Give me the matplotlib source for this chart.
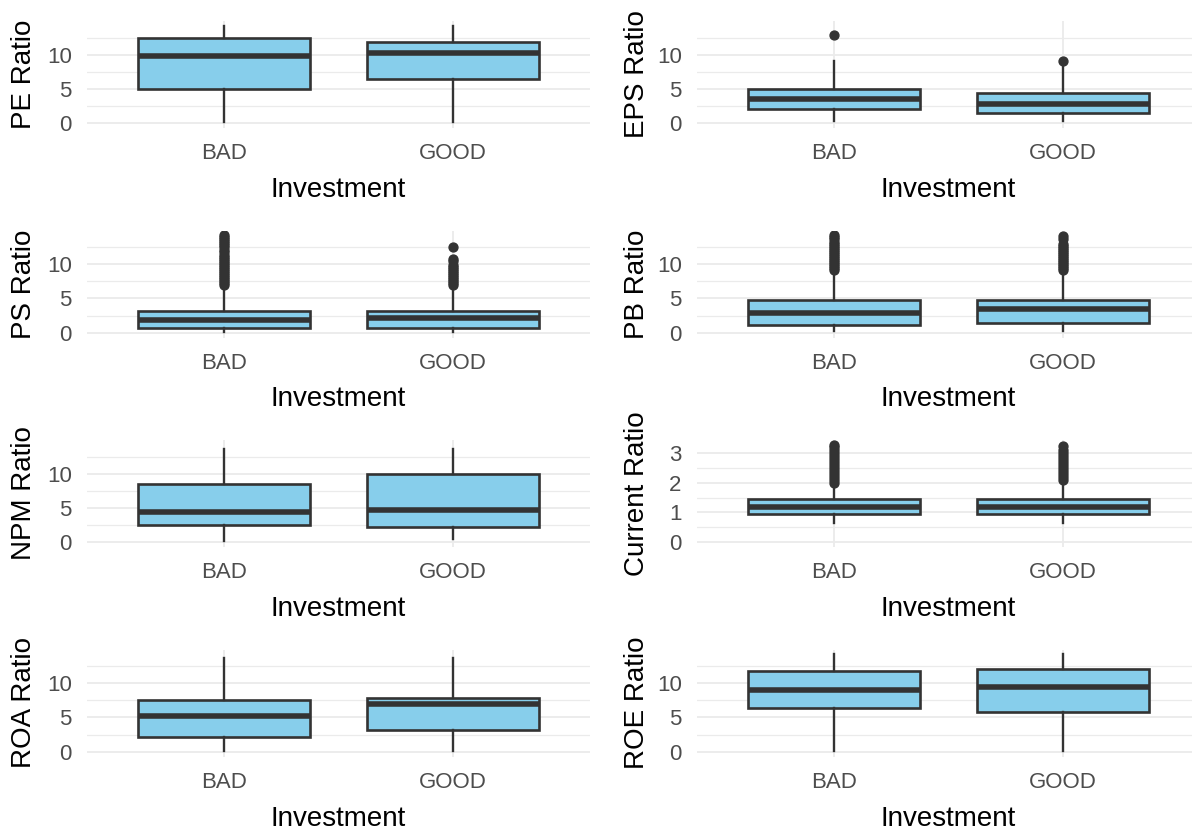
import numpy as np
import matplotlib
matplotlib.use('Agg')
import matplotlib.pyplot as plt
from matplotlib.ticker import MultipleLocator

plt.rcParams['font.family'] = ['Liberation Sans', 'DejaVu Sans']

groups = ['BAD', 'GOOD']
metrics = ['PE Ratio', 'EPS Ratio', 'PS Ratio', 'PB Ratio',
           'NPM Ratio', 'Current Ratio', 'ROA Ratio', 'ROE Ratio']
# upper end of each variable's data range (drives the y scale)
data_max = [14.2, 14.2, 14.2, 14.2, 14.2, 3.27, 14.2, 14.2]

# box stats per group: [whisker low, q1, median, q3, whisker high]
pe_bad = [0.15, 5.0, 9.85, 12.45, 14.2]
pe_good = [0.15, 6.5, 10.25, 11.8, 14.2]
eps_bad = [0.3, 2.0, 3.55, 4.95, 9.0]
eps_good = [0.3, 1.55, 2.8, 4.45, 8.6]
ps_bad = [0.1, 0.7, 1.9, 3.1, 6.7]
ps_good = [0.1, 0.7, 2.1, 3.1, 6.7]
pb_bad = [0.25, 1.1, 2.9, 4.7, 8.9]
pb_good = [0.25, 1.45, 3.4, 4.7, 8.9]
npm_bad = [0.15, 2.55, 4.4, 8.5, 13.6]
npm_good = [0.5, 2.2, 4.75, 10.0, 13.6]
cur_bad = [0.66, 0.96, 1.19, 1.45, 1.95]
cur_good = [0.66, 0.96, 1.19, 1.45, 2.0]
roa_bad = [0.1, 2.2, 5.2, 7.5, 13.7]
roa_good = [0.1, 3.1, 6.9, 7.9, 13.7]
roe_bad = [0.1, 6.3, 9.0, 11.8, 14.2]
roe_good = [0.1, 5.8, 9.5, 12.1, 14.2]

# outliers
eps_bad_out = [12.85]
eps_good_out = [9.1]
ps_bad_out = [6.9, 7.2, 7.5, 7.8, 8.1, 8.4, 8.7, 9.0, 9.3, 9.6, 9.9, 10.2, 10.5,
              10.8, 11.1, 11.4, 11.7, 12.0, 12.5, 12.8, 13.1, 13.4, 13.7, 14.0, 14.2]
ps_good_out = [6.9, 7.2, 7.5, 7.8, 8.1, 8.4, 8.7, 9.0, 9.3, 9.6, 9.9, 10.5, 10.8, 12.5]
pb_bad_out = [9.1, 9.4, 9.7, 10.0, 10.3, 10.6, 10.9, 11.2, 11.5, 11.8, 12.1, 12.4,
              12.7, 13.0, 13.3, 13.6, 13.9, 14.2]
pb_good_out = [9.1, 9.4, 9.7, 10.0, 10.3, 10.6, 10.9, 11.2, 11.5, 11.8, 12.1, 12.4,
               12.7, 13.0, 13.6, 14.1]
cur_bad_out = [2.0, 2.1, 2.2, 2.3, 2.4, 2.5, 2.6, 2.7, 2.8, 2.9, 3.0, 3.1, 3.2, 3.27]
cur_good_out = [2.1, 2.2, 2.3, 2.4, 2.5, 2.6, 2.7, 2.8, 2.9, 3.0, 3.1, 3.22]

stats = {
    'PE Ratio': (pe_bad, pe_good, [], []),
    'EPS Ratio': (eps_bad, eps_good, eps_bad_out, eps_good_out),
    'PS Ratio': (ps_bad, ps_good, ps_bad_out, ps_good_out),
    'PB Ratio': (pb_bad, pb_good, pb_bad_out, pb_good_out),
    'NPM Ratio': (npm_bad, npm_good, [], []),
    'Current Ratio': (cur_bad, cur_good, cur_bad_out, cur_good_out),
    'ROA Ratio': (roa_bad, roa_good, [], []),
    'ROE Ratio': (roe_bad, roe_good, [], []),
}

W, H = 1192, 832
fig = plt.figure(figsize=(W / 100, H / 100), dpi=100)

grid_col = '#EBEBEB'
dark = '#333333'
fill = '#87CEEB'

for i, name in enumerate(metrics):
    r, c = divmod(i, 2)
    x0 = 87 if c == 0 else 697
    x1 = x0 + 503
    top = 21 + 209.5 * r
    bot = 128 + 209.5 * r
    ax = fig.add_axes([x0 / W, 1 - bot / H, (x1 - x0) / W, (bot - top) / H])

    bad, good, bad_out, good_out = stats[name]
    bxs = []
    for s, out, g in [(bad, bad_out, 'BAD'), (good, good_out, 'GOOD')]:
        bxs.append(dict(whislo=s[0], q1=s[1], med=s[2], q3=s[3], whishi=s[4],
                        fliers=out, label=g))
    ax.bxp(bxs, positions=[1, 2], widths=0.75, patch_artist=True,
           showcaps=False,
           boxprops=dict(facecolor=fill, edgecolor=dark, linewidth=1.9),
           medianprops=dict(color=dark, linewidth=4.0, solid_capstyle='butt'),
           whiskerprops=dict(color=dark, linewidth=1.7),
           flierprops=dict(marker='o', markerfacecolor=dark, markeredgecolor=dark,
                           markersize=6.4, linestyle='none'))

    lo = 0
    hi = data_max[i]
    pad = 0.05 * (hi - lo)
    ax.set_ylim(lo - pad, hi + pad)
    ax.set_xlim(0.4, 2.6)

    if name == 'Current Ratio':
        ax.yaxis.set_major_locator(MultipleLocator(1))
        ax.yaxis.set_minor_locator(MultipleLocator(0.5))
    else:
        ax.yaxis.set_major_locator(MultipleLocator(5))
        ax.yaxis.set_minor_locator(MultipleLocator(2.5))

    ax.set_axisbelow(True)
    ax.grid(True, which='major', axis='both', color=grid_col, linewidth=1.3)
    ax.grid(True, which='minor', axis='y', color=grid_col, linewidth=0.9)
    for sp in ax.spines.values():
        sp.set_visible(False)
    ax.tick_params(which='both', length=0)
    ax.tick_params(axis='y', labelsize=16, labelcolor='#4D4D4D', pad=11)
    ax.tick_params(axis='x', labelsize=16, labelcolor='#4D4D4D', pad=11)
    ax.set_xticks([1, 2])
    ax.set_xticklabels(groups)

    ax.set_ylabel(name, fontsize=20, color='black', va='center')
    ax.yaxis.set_label_coords(-0.125 if c == 0 else -0.119, 0.5)
    ax.set_xlabel('Investment', fontsize=20, color='black', va='center')
    ax.xaxis.set_label_coords(0.5, -(190 - 128) / (bot - top))

fig.savefig('out.png', dpi=100, facecolor='white')
